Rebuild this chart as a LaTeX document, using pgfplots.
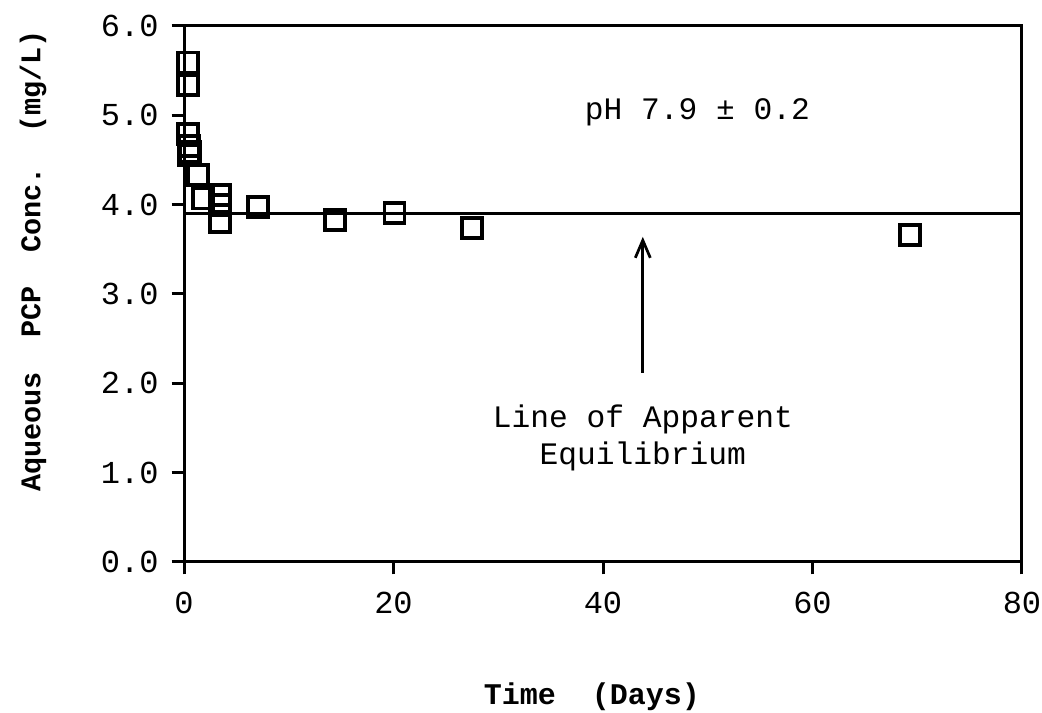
\documentclass[border=0pt]{standalone}
\usepackage{pgfplots}
\pgfplotsset{compat=1.18}
\usepackage{fontspec}
\setmainfont{Liberation Mono}
\usetikzlibrary{arrows.meta}

\begin{document}
\fontsize{12}{14}\selectfont
\begin{tikzpicture}
\useasboundingbox (-73.6pt,-60.4pt) rectangle (343.2pt,224.8pt);
\begin{axis}[
  scale only axis,
  width=335.2pt, height=214.4pt,
  xmin=0, xmax=80, ymin=0, ymax=6,
  xtick={0,20,40,60,80},
  ytick={0,1,2,3,4,5,6},
  tick align=outside,
  xtick pos=bottom, ytick pos=left,
  major tick length=5pt,
  axis line style={line width=1.2pt},
  every tick/.style={line width=1.2pt,black},
  tick label style={font=\fontsize{12.8}{14}\selectfont},
  yticklabel style={xshift=-1pt},
  xticklabel style={yshift=-3pt},
  /pgf/number format/assume math mode=true,
  yticklabel style={/pgf/number format/fixed,/pgf/number format/fixed zerofill,/pgf/number format/precision=1},
  xticklabel style={/pgf/number format/fixed},
  clip=false,
]
% apparent equilibrium line
\addplot[line width=1.2pt,black] coordinates {(0,3.9) (80,3.9)};
% measured concentrations
\addplot[only marks, mark=square, mark size=4pt, line width=1.5pt, black]
  coordinates {
    (0.38,5.59) (0.38,5.34) (0.40,4.79) (0.50,4.66) (0.60,4.59) (0.45,4.55)
    (1.34,4.33) (1.80,4.07) (3.44,4.11) (3.44,4.00) (3.44,3.81)
    (7.1,3.97) (14.4,3.83) (20.1,3.91) (27.5,3.74) (69.3,3.66)
  };
\draw[-{Straight Barb[length=7pt,width=6pt]}, line width=1.1pt] (axis cs:43.8,2.12) -- (axis cs:43.8,3.64);
\node[align=center, font=\fontsize{12.5}{15}\selectfont] at (axis cs:43.8,1.39) {Line of Apparent\\Equilibrium};
\node[font=\fontsize{12.5}{14}\selectfont] at (axis cs:49.0,5.03) {pH 7.9 ± 0.2};
\end{axis}
\node[font=\bfseries\fontsize{12}{14}\selectfont] at (163.2pt,-54pt) {Time\ \ (Days)};
\node[font=\bfseries\fontsize{11.4}{14}\selectfont, rotate=90] at (-60.4pt,120.4pt) {Aqueous\ \ PCP\ \ Conc.\ \ (mg/L)};
\end{tikzpicture}
\end{document}
